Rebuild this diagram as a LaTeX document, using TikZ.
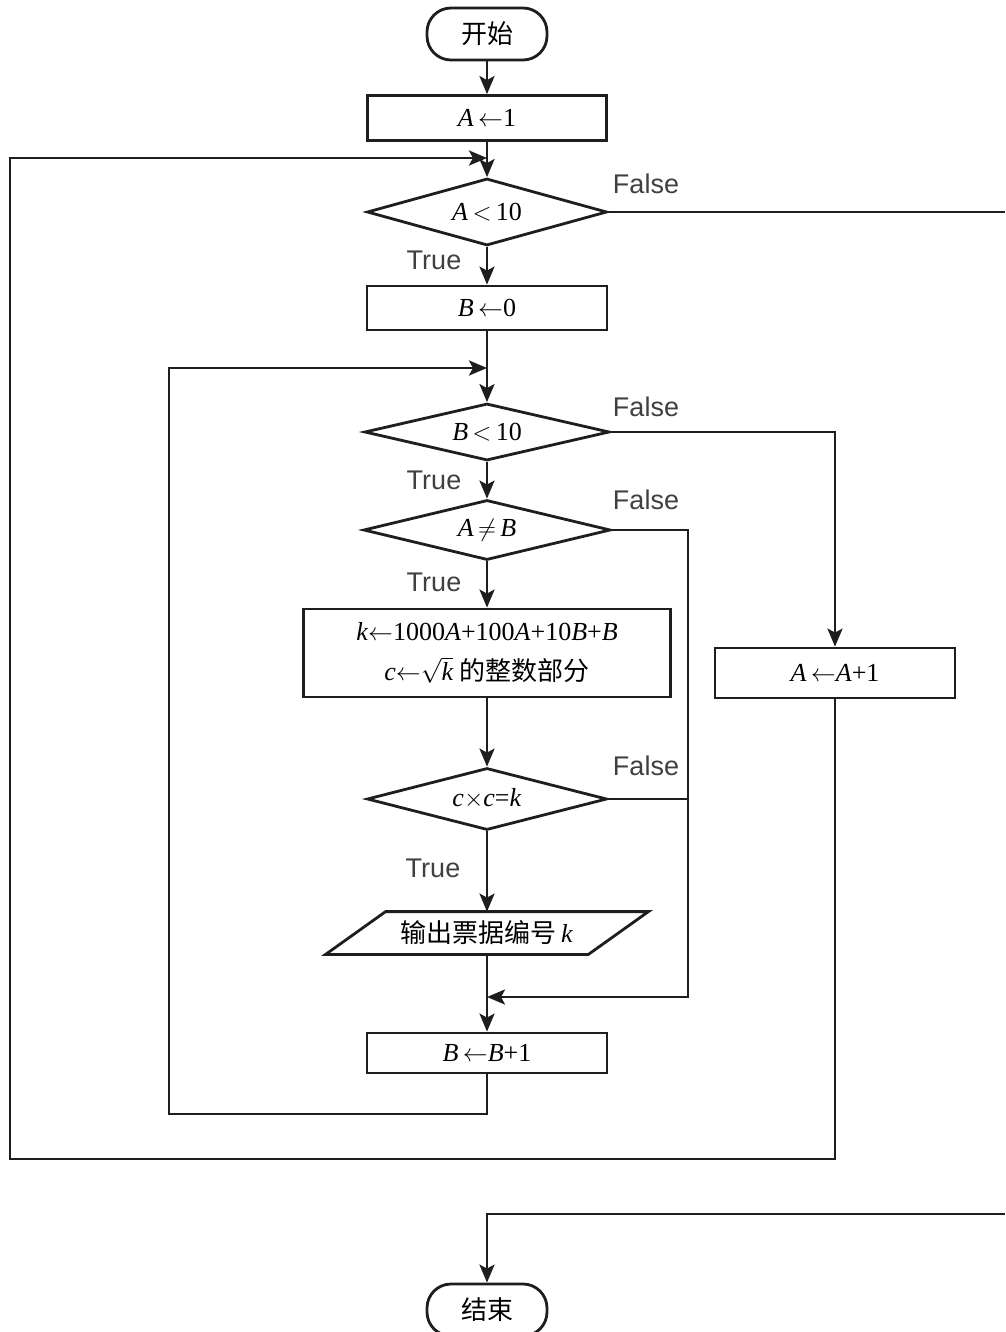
\documentclass[tikz,border=0pt]{standalone}
\usepackage{fontspec}
\setmainfont{Liberation Serif}
\newfontfamily\cjk{Noto Sans CJK SC}
\newfontfamily\lab{Liberation Sans}
\usetikzlibrary{arrows.meta,shapes.geometric,calc}
\definecolor{ink}{HTML}{1E1E1E}
\begin{document}
\begin{tikzpicture}[x=1pt,y=-1pt,line width=2.8pt,draw=ink,
  font=\fontsize{26}{30}\selectfont,
  arr/.style={-{Stealth[length=18pt,width=15pt,inset=4pt]}},
  term/.style={draw,rectangle,rounded corners=24pt,minimum width=120,minimum height=52,inner sep=0},
  proc/.style={draw,rectangle,inner sep=0},
  dia/.style={draw,diamond,inner sep=0,aspect=3.6},
  lbl/.style={font=\lab\fontsize{27}{30}\selectfont,text=ink!85,inner sep=0},
  cj/.style={font=\cjk\fontsize{26}{30}\selectfont}]
\useasboundingbox (0,0) rectangle (1005,1332);
\fill[white] (0,0) rectangle (1005,1332);

% nodes
\node[term,cj] (start) at (487,34) {开始};
\node[proc,minimum width=239,minimum height=45] (a1) at (487,118) {\textit{A}\,$\leftarrow$1};
\node[dia,minimum width=240,minimum height=67] (d1) at (487,212) {\textit{A}\,$<$\,10};
\node[proc,minimum width=240,minimum height=44] (b0) at (487,308) {\textit{B}\,$\leftarrow$0};
\node[dia,minimum width=245,minimum height=57] (d2) at (487,432) {\textit{B}\,$<$\,10};
\node[dia,minimum width=247,minimum height=60] (d3) at (487,530) {\textit{A}\,$\neq$\,\textit{B}};
\node[proc,minimum width=367,minimum height=88,align=center,font=\fontsize{26}{40}\selectfont] (kb) at (487,653)
  {\textit{k}$\leftarrow$1000\textit{A}+100\textit{A}+10\textit{B}+\textit{B}\\
   \textit{c}$\leftarrow$$\sqrt{\textit{k}}$\ {\cjk 的整数部分}};
\node[dia,minimum width=240,minimum height=62] (d4) at (487,799) {\textit{c}$\times$\textit{c}=\textit{k}};
\node[rectangle,inner sep=0,minimum width=320,minimum height=40] (out) at (487,933) {{\cjk 输出票据编号}\,\textit{k}};
\draw ($(out.south west)$) -- ($(out.north west)+(60,0)$) -- (out.north east) -- ($(out.south east)+(-60,0)$) -- cycle;
\node[proc,minimum width=240,minimum height=40] (bb) at (487,1053) {\textit{B}\,$\leftarrow$\textit{B}+1};
\node[proc,minimum width=240,minimum height=50] (aa) at (835,673) {\textit{A}\,$\leftarrow$\textit{A}+1};
\node[term,cj] (stop) at (487,1310) {结束};

% labels
\node[lbl] (f1) at (646,184) {False};
\node[lbl] (t1) at (434,260) {True};
\node[lbl] (f2) at (646,407) {False};
\node[lbl] (t2) at (434,480) {True};
\node[lbl] (f3) at (646,500) {False};
\node[lbl] (t3) at (434,582) {True};
\node[lbl] (f4) at (646,766) {False};
\node[lbl] (t4) at (433,868) {True};

% coordinates
\coordinate (j1) at (487,158);
\coordinate (j2) at (487,368);
\coordinate (j3) at (487,997);
\coordinate (lA) at (10,1159);
\coordinate (lB) at (169,1114);
\coordinate (c3) at (688,997);
\coordinate (x1) at (1005,212);
\coordinate (x2) at (1005,1214);

% connectors
\draw[arr] (start) -- (a1);
\draw[arr] (a1) -- (d1);
\draw[arr] (aa.south) |- (lA) |- (j1);
\draw (d1.east) -- (x1);
\draw[arr] (x2) -| (stop.north);
\draw[arr] (d1) -- (b0);
\draw[arr] (b0) -- (d2);
\draw[arr] (bb.south) |- (lB) |- (j2);
\draw[arr] (d2.east) -| (aa.north);
\draw[arr] (d2) -- (d3);
\draw[arr] (d3.east) -| (c3) -- (j3);
\draw[arr] (d3) -- (kb);
\draw[arr] (kb) -- (d4);
\draw (d4.east) -- (d4.east -| c3);
\draw[arr] (d4) -- (out);
\draw[arr] (out) -- (bb);
\end{tikzpicture}
\end{document}
